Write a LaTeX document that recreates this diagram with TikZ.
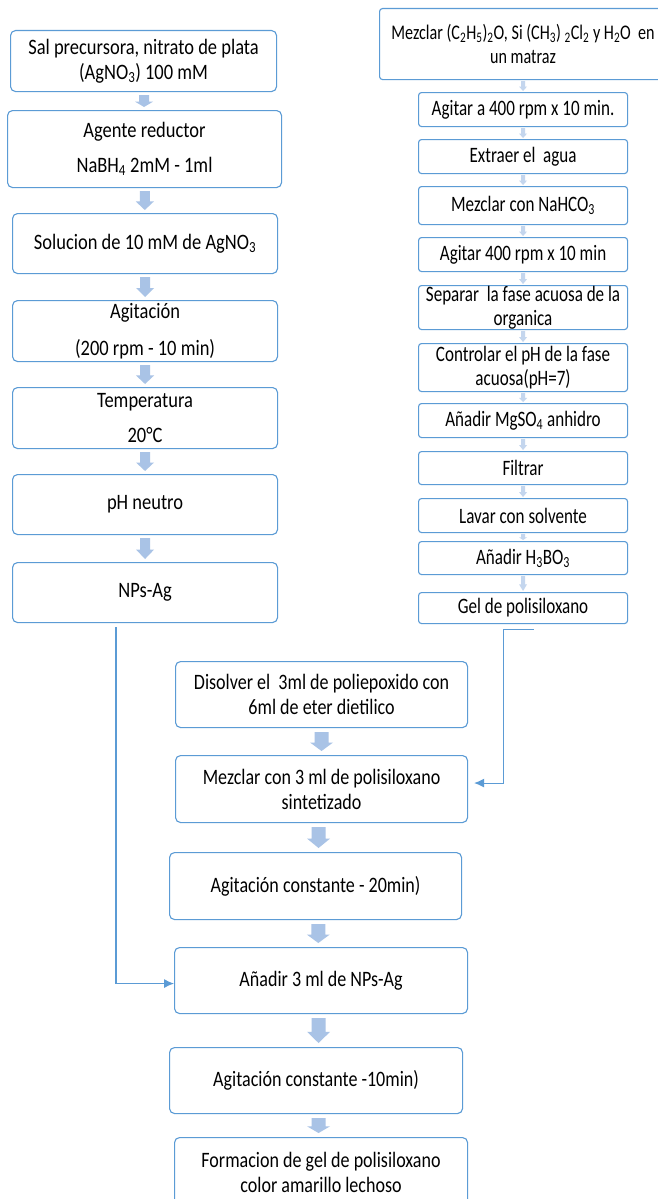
\documentclass[tikz,border=0pt]{standalone}
\usepackage{fontspec}
\setmainfont{Carlito}[FakeStretch=0.84]
\newfontfamily\midfont{Carlito}[FakeStretch=0.82]
\newfontfamily\rtfont{Carlito}[FakeStretch=0.775]
\usetikzlibrary{calc,arrows.meta}
\definecolor{bxc}{HTML}{5B9BD5}
\definecolor{arf}{HTML}{A9C3E6}
\definecolor{arl}{HTML}{C4D6EE}
\tikzset{
  boxat/.style n args={4}{anchor=north west, at={(#1,#2)}, minimum width={(#3)-(#1)}, minimum height={(#4)-(#2)}},
  stepbox/.style={draw=bxc, line width=1.1pt, rounded corners=5pt, fill=white, inner sep=0pt, align=center, font=\fontsize{22}{24.5}\selectfont},
  mbox/.style={stepbox, font=\midfont\fontsize{22}{25}\selectfont},
  rbox/.style={stepbox, rounded corners=3pt, font=\rtfont\fontsize{22}{23.5}\selectfont},
  conn/.style={draw=bxc, line width=1.1pt},
  tip/.style={-{Latex[length=10pt,width=9pt]}},
}
\newcommand{\blk}[6]{%
 \fill[#6] let \p1=(#1.south), \p2=(#2.north), \n1={(\x1+\x2)/2}, \n2={\y1-#5pt}, \n3={\y2+#5pt}, \n4={\n3+0.45*(\n2-\n3)} in
 ({(\n1-#3)*1pt},{\n2*1pt}) -- ({(\n1+#3)*1pt},{\n2*1pt}) -- ({(\n1+#3)*1pt},{\n4*1pt}) -- ({(\n1+#4)*1pt},{\n4*1pt}) -- ({\n1*1pt},{\n3*1pt}) -- ({(\n1-#4)*1pt},{\n4*1pt}) -- ({(\n1-#3)*1pt},{\n4*1pt}) -- cycle;}
\begin{document}
\begin{tikzpicture}[x=1pt,y=-1pt]
\useasboundingbox (0,0) rectangle (658,1199);
\clip (0,0) rectangle (658,1199);
\fill[white] (0,0) rectangle (658,1199);
% left column
\node[stepbox, boxat={10}{30}{276}{91}] (l1) {Sal precursora, nitrato de plata\\(AgNO\textsubscript{3}) 100 mM};
\node[stepbox, boxat={7}{110}{281}{187}] (l2) {Agente reductor\\[11pt]NaBH\textsubscript{4} 2mM - 1ml};
\node[stepbox, boxat={12}{213}{277}{273}] (l3) {Solucion de 10 mM de AgNO\textsubscript{3}};
\node[stepbox, boxat={12}{300}{277}{361}] (l4) {Agitación\\[12pt](200 rpm - 10 min)};
\node[stepbox, boxat={12}{387}{277}{448}] (l5) {Temperatura\\[10pt]20°C};
\node[stepbox, boxat={12}{474}{277}{534}] (l6) {pH neutro};
\node[stepbox, boxat={12}{562}{277}{622}] (l7) {NPs-Ag};
% right column
\node[rbox, font=\rtfont\fontsize{20.8}{24}\selectfont, boxat={379}{8}{666}{79}] (r1) {Mezclar (C\textsubscript{2}H\textsubscript{5})\textsubscript{2}O, Si (CH\textsubscript{3}) \textsubscript{2}Cl\textsubscript{2} y H\textsubscript{2}O\ \ en\\un matraz};
\node[rbox, boxat={418}{92}{627}{126}] (r2) {Agitar a 400 rpm x 10 min.};
\node[rbox, boxat={418}{139}{627}{173}] (r3) {Extraer el\ \ agua};
\node[rbox, boxat={418}{186}{627}{224}] (r4) {Mezclar con NaHCO\textsubscript{3}};
\node[rbox, boxat={418}{237}{627}{271}] (r5) {Agitar 400 rpm x 10 min};
\node[rbox, boxat={418}{285}{627}{329}] (r6) {Separar\ \ la fase acuosa de la\\organica};
\node[rbox, boxat={418}{343}{627}{391}] (r7) {Controlar el pH de la fase\\acuosa(pH=7)};
\node[rbox, boxat={418}{403}{627}{437}] (r8) {Añadir MgSO\textsubscript{4} anhidro};
\node[rbox, boxat={418}{451}{627}{484}] (r9) {Filtrar};
\node[rbox, boxat={418}{498}{627}{532}] (r10) {Lavar con solvente};
\node[rbox, boxat={418}{541}{627}{574}] (r11) {Añadir H\textsubscript{3}BO\textsubscript{3}};
\node[rbox, boxat={418}{592}{627}{623}] (r12) {Gel de polisiloxano};
% middle column
\node[mbox, boxat={175}{661}{467}{727}] (m1) {Disolver el\ \ 3ml de poliepoxido con\\6ml de eter dietilico};
\node[mbox, boxat={175}{755}{467}{822}] (m2) {Mezclar con 3 ml de polisiloxano\\sintetizado};
\node[mbox, boxat={169}{852}{461}{919}] (m3) {Agitación constante - 20min)};
\node[mbox, boxat={174}{947}{467}{1013}] (m4) {Añadir 3 ml de NPs-Ag};
\node[mbox, boxat={169}{1047}{462}{1113}] (m5) {Agitación constante -10min)};
\node[mbox, boxat={174}{1137}{467}{1207}] (m6) {Formacion de gel de polisiloxano\\color amarillo lechoso};
% block arrows
\blk{l1}{l2}{5}{9}{3}{arf}
\blk{l2}{l3}{5}{9}{3}{arf}
\blk{l3}{l4}{5}{9}{3}{arf}
\blk{l4}{l5}{5}{9}{3}{arf}
\blk{l5}{l6}{5}{9}{3}{arf}
\blk{l6}{l7}{5}{9}{3}{arf}
\blk{r1}{r2}{2}{4}{1}{arl}
\blk{r2}{r3}{2}{4}{1}{arl}
\blk{r3}{r4}{2}{4}{1}{arl}
\blk{r4}{r5}{2}{4}{1}{arl}
\blk{r5}{r6}{2}{4}{1}{arl}
\blk{r6}{r7}{2}{4}{1}{arl}
\blk{r7}{r8}{2}{4}{1}{arl}
\blk{r8}{r9}{2}{4}{1}{arl}
\blk{r9}{r10}{2}{4}{1}{arl}
\blk{r10}{r11}{2}{4}{1}{arl}
\blk{r11}{r12}{2}{4}{1}{arl}
\blk{m1}{m2}{7}{11.5}{4}{arf}
\blk{m2}{m3}{7}{11.5}{4}{arf}
\blk{m3}{m4}{7}{11.5}{4}{arf}
\blk{m4}{m5}{7}{11.5}{4}{arf}
\blk{m5}{m6}{7}{11.5}{4}{arf}
% connectors
\draw[conn, tip] (l7.south west) ++(104,4) coordinate (ls) |- ($(m4.west)+(0,3)$);
\draw[conn, tip] (r12.south) ++(10.5,5) coordinate (rs) -- ++(-30,0) |- ($(m2.east)+(6,-6)$);
\end{tikzpicture}
\end{document}
